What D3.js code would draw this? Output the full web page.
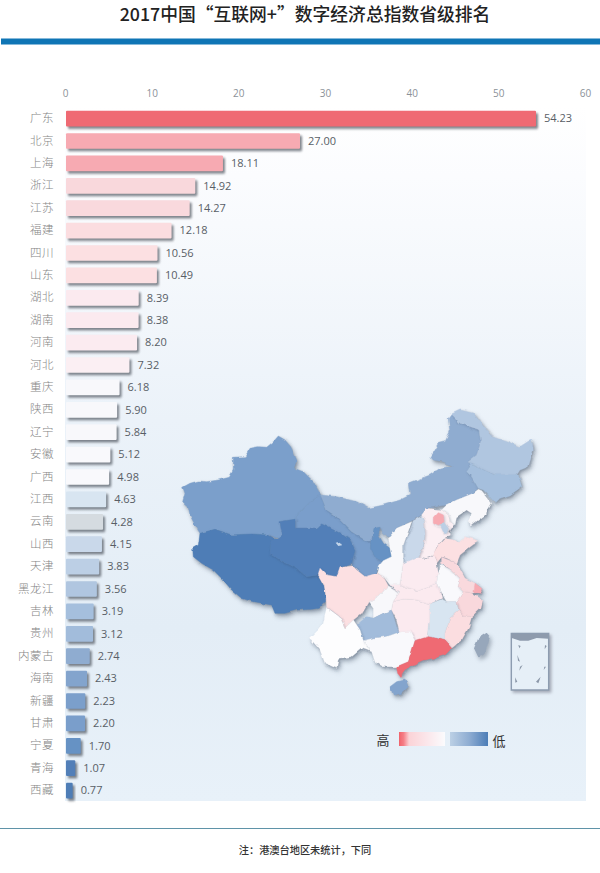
<!DOCTYPE html>
<html><head><meta charset="utf-8">
<script src="https://cdn.jsdelivr.net/npm/d3@7"></script>
<style>html,body{margin:0;padding:0;background:#fff}svg{display:block}</style>
</head><body><svg id="c" width="600" height="873"></svg>
<script>
const provinces = ["广东","北京","上海","浙江","江苏","福建","四川","山东","湖北","湖南","河南","河北","重庆","陕西","辽宁","安徽","广西","江西","云南","山西","天津","黑龙江","吉林","贵州","内蒙古","海南","新疆","甘肃","宁夏","青海","西藏"];
const indexValues = [54.23,27.00,18.11,14.92,14.27,12.18,10.56,10.49,8.39,8.38,8.20,7.32,6.18,5.90,5.84,5.12,4.98,4.63,4.28,4.15,3.83,3.56,3.19,3.12,2.74,2.43,2.23,2.20,1.70,1.07,0.77];
const axisTicks = [0,10,20,30,40,50,60];
const titleText = "2017中国“互联网+”数字经济总指数省级排名";
const noteText = "注：港澳台地区未统计，下同";

// Base-map outlines, in the map's own planar units
const mapOutlines = [
["新疆",[[38,262],[60,250],[85,243],[110,245],[145,240],[178,232],[190,210],[190,172],[225,170],[240,145],[265,140],[290,142],[310,125],[325,108],[345,120],[362,140],[380,180],[372,205],[400,215],[430,245],[452,285],[415,310],[390,335],[375,358],[327,365],[330,385],[337,405],[325,415],[295,405],[245,402],[185,405],[135,388],[90,400],[70,365],[60,345],[55,320],[38,305],[45,280]]],
["甘肃",[[452,285],[470,330],[500,350],[525,375],[545,395],[585,420],[605,420],[605,450],[620,475],[640,482],[625,500],[610,530],[585,530],[560,510],[545,490],[555,450],[540,420],[510,400],[480,385],[455,372],[440,385],[375,385],[375,358],[390,335],[415,310]]],
["西藏",[[90,400],[135,388],[185,405],[245,402],[295,405],[318,418],[303,425],[300,460],[330,480],[380,505],[410,530],[445,525],[462,560],[468,600],[445,625],[425,628],[380,630],[345,640],[315,640],[305,615],[250,605],[215,595],[185,570],[160,540],[130,510],[95,490],[70,470],[68,445],[85,435]]],
["青海",[[327,365],[375,358],[375,385],[440,385],[455,372],[480,385],[510,400],[540,420],[555,450],[545,490],[510,500],[500,530],[470,525],[445,525],[410,530],[380,505],[330,480],[300,460],[303,425],[325,415],[337,405],[330,385]]],
["内蒙古",[[452,285],[500,290],[560,305],[595,325],[640,315],[690,300],[720,285],[715,250],[780,225],[810,205],[850,198],[820,185],[790,180],[780,170],[805,130],[825,125],[840,95],[835,55],[845,42],[870,70],[930,90],[935,120],[920,165],[895,185],[900,200],[890,215],[905,230],[925,265],[910,280],[860,300],[830,315],[770,325],[755,345],[720,365],[680,385],[655,415],[640,400],[630,382],[612,385],[605,420],[585,420],[545,395],[525,375],[500,350],[470,330]]],
["宁夏",[[612,385],[630,382],[625,405],[640,430],[660,445],[665,470],[640,482],[620,475],[605,450],[605,425]]],
["黑龙江",[[845,42],[870,30],[910,40],[945,85],[965,110],[1010,125],[1050,140],[1085,118],[1090,150],[1075,200],[1050,210],[1040,225],[1010,225],[970,225],[930,205],[910,195],[895,185],[920,165],[935,120],[930,90],[870,70]]],
["吉林",[[895,185],[910,195],[930,205],[970,225],[1010,225],[1045,225],[1055,260],[1020,285],[990,295],[975,310],[960,290],[940,270],[925,265],[905,230],[890,215],[900,200]]],
["辽宁",[[925,268],[935,272],[965,310],[945,345],[905,375],[895,365],[905,340],[890,330],[860,350],[855,375],[840,365],[835,345],[815,330],[830,315],[860,300],[910,280]]],
["河北",[[770,325],[815,330],[835,345],[840,365],[850,372],[835,395],[845,405],[820,415],[800,440],[790,465],[770,475],[745,470],[760,440],[765,400],[760,365],[755,345]]],
["北京",[[790,355],[805,338],[820,345],[822,365],[805,378],[790,370]]],
["天津",[[822,368],[835,385],[830,400],[820,395],[812,378]]],
["山西",[[730,362],[755,348],[762,365],[765,400],[760,440],[745,470],[710,490],[700,490],[700,435],[715,400]]],
["陕西",[[655,415],[680,385],[725,365],[700,435],[700,490],[695,525],[690,555],[660,555],[640,530],[620,520],[625,500],[640,482],[665,470],[660,445]]],
["山东",[[785,470],[805,435],[825,415],[850,420],[865,430],[885,410],[925,422],[895,445],[870,465],[860,490],[830,475],[815,470],[800,490]]],
["河南",[[700,490],[745,470],[770,478],[790,468],[800,490],[805,520],[800,550],[775,560],[740,575],[690,555],[695,525]]],
["四川",[[450,505],[470,525],[500,530],[510,500],[545,495],[560,510],[585,530],[620,520],[640,530],[655,558],[625,590],[595,605],[575,640],[550,660],[525,685],[510,650],[470,620],[468,590],[462,555],[445,525]]],
["重庆",[[595,605],[625,590],[655,558],[690,575],[670,605],[665,630],[640,640],[610,655],[610,625]]],
["湖北",[[660,555],[690,555],[740,575],[775,560],[800,550],[810,570],[815,595],[780,612],[735,600],[700,598],[670,605],[690,575]]],
["安徽",[[815,495],[845,510],[870,535],[865,560],[880,575],[860,605],[830,605],[810,570],[800,550],[805,520]]],
["江苏",[[815,472],[860,490],[885,535],[915,550],[935,575],[905,580],[880,575],[865,560],[870,535],[845,510],[830,500],[815,490]]],
["上海",[[915,550],[935,565],[932,580],[912,578]]],
["浙江",[[880,575],[905,580],[935,600],[930,625],[905,650],[880,650],[865,632],[860,605]]],
["贵州",[[560,675],[590,650],[610,655],[640,640],[665,630],[680,680],[688,697],[650,710],[610,715],[580,722],[570,690]]],
["湖南",[[670,605],[700,598],[735,600],[780,612],[780,665],[775,710],[735,722],[720,705],[688,697],[680,660],[665,630]]],
["江西",[[780,612],[815,598],[830,605],[860,605],[865,632],[840,655],[825,700],[825,722],[800,715],[775,710],[780,665]]],
["福建",[[865,632],[880,650],[905,650],[895,685],[875,720],[845,745],[825,722],[825,700],[840,655]]],
["云南",[[470,622],[510,652],[525,685],[550,660],[560,675],[570,690],[580,722],[605,755],[575,745],[545,770],[505,775],[500,805],[465,790],[450,750],[420,715],[445,690],[460,670]]],
["广西",[[580,722],[610,715],[650,710],[688,697],[720,695],[735,722],[725,755],[715,785],[680,800],[640,800],[615,785],[605,755]]],
["广东",[[735,722],[775,710],[800,715],[825,722],[845,745],[825,765],[790,775],[760,780],[715,800],[695,825],[695,835],[683,820],[680,800],[715,785],[725,755]]],
["海南",[[660,860],[680,845],[705,840],[715,860],[695,880],[670,885]]]
];
const qinghaiLake = [[497,428],[510,425],[516,436],[505,438]];
const taiwanOutline = [[950,698],[960,710],[945,760],[925,772],[912,745],[925,715]];
const insetTop = [[1025,702],[1135,702],[1135,716],[1100,714],[1075,722],[1050,722],[1025,714]];
const insetIslands = [[[1045,735],[1052,738],[1048,745]],[[1125,735],[1130,738],[1124,748]],[[1042,765],[1050,785],[1044,782]],[[1050,800],[1058,795],[1048,812]],[[1123,800],[1128,800],[1121,810]],[[1035,832],[1042,845],[1036,848]],[[1098,845],[1112,830],[1105,850]]];

const colorKnots = [0.77,1.07,1.70,2.20,2.74,3.19,3.56,3.83,4.15,4.63,4.98,6.18,7.32,8.39,10.49,14.92,18.11,27,54.23];
const colorStops = ["#4e7db6","#527fb8","#6692c4","#7a9ecb","#8facd0","#a5bfdd","#b0c6e0","#bccfe5","#c9d8ea","#d8e5f1","#f9f9fc","#f8f8fb","#fbeff3","#fbeaef","#fce0e2","#f9d8dc","#f7aab2","#f7aab2","#ef6a73"];
const shade = d3.scaleLinear().domain(colorKnots).range(colorStops);

const svg = d3.select("#c");
const defs = svg.append("defs");
function shadow(id,dx,dy,sd,col,op){
  const f=defs.append("filter").attr("id",id).attr("x","-30%").attr("y","-30%").attr("width","170%").attr("height","170%").attr("color-interpolation-filters","sRGB");
  f.append("feDropShadow").attr("dx",dx).attr("dy",dy).attr("stdDeviation",sd).attr("flood-color",col).attr("flood-opacity",op);
}
shadow("barShadow",2,2.4,0.9,"#555c66",0.75);
shadow("provShadow",1,1.1,1,"#2f4258",0.28);
shadow("mapShadow",2,3,2,"#3c4c60",0.4);
shadow("insetShadow",2,2,1.5,"#556",0.45);
const rough = defs.append("filter").attr("id","rough").attr("x","-5%").attr("y","-5%").attr("width","110%").attr("height","110%").attr("color-interpolation-filters","sRGB");
rough.append("feTurbulence").attr("type","fractalNoise").attr("baseFrequency",0.13).attr("numOctaves",2).attr("seed",4).attr("result","n");
rough.append("feDisplacementMap").attr("in","SourceGraphic").attr("in2","n").attr("scale",3.5).attr("xChannelSelector","R").attr("yChannelSelector","G").attr("result","d");
rough.append("feGaussianBlur").attr("in","d").attr("stdDeviation",0.35);
function grad(id,x2,y2,stops){
  const g=defs.append("linearGradient").attr("id",id).attr("x1",0).attr("y1",0).attr("x2",x2).attr("y2",y2);
  stops.forEach(s=>g.append("stop").attr("offset",s[0]).attr("stop-color",s[1]));
}
grad("panel",0,1,[[0,"#ffffff"],[0.1,"#fbfcfe"],[0.45,"#ebf2f9"],[0.75,"#e3edf6"],[1,"#e8f1f9"]]);
grad("legHigh",1,0,[[0,"#f0636c"],[0.1,"#f57f87"],[0.22,"#fbd3d7"],[0.6,"#fbe6ea"],[1,"#fbfbfd"]]);
grad("legLow",1,0,[[0,"#bcd0e5"],[0.5,"#8fadd2"],[1,"#4c7db7"]]);

// Header and footer
svg.append("text").attr("x",305).attr("y",21).attr("text-anchor","middle")
  .attr("font-family","'Noto Sans CJK SC'").attr("font-weight",500).attr("font-size",17.8).attr("fill","#222").text(titleText);
svg.append("rect").attr("x",1).attr("y",38.5).attr("width",599).attr("height",6).attr("fill","#0f75b5");

const xScale = d3.scaleLinear().domain([0,60]).range([66,586]);
const yScale = d3.scaleBand().domain(provinces).range([107.4,801.8]).paddingInner(0.3).paddingOuter(0.15);

svg.append("rect").attr("x",65).attr("y",107).attr("width",521).attr("height",694).attr("fill","url(#panel)");
svg.append("line").attr("x1",0).attr("x2",600).attr("y1",828.5).attr("y2",828.5).attr("stroke","#5f93a8").attr("stroke-width",1.2);
svg.append("text").attr("x",305).attr("y",854).attr("text-anchor","middle")
  .attr("font-family","'Noto Sans CJK SC'").attr("font-weight",500).attr("font-size",10.2).attr("fill","#333").text(noteText);

// Axes
const topAxis = svg.append("g").attr("transform","translate(-1,96.5)")
  .call(d3.axisTop(xScale).tickValues(axisTicks).tickSize(0).tickPadding(0));
topAxis.select(".domain").remove();
topAxis.selectAll("text").attr("font-family","'Open Sans'").attr("font-size",10).attr("fill","#8b9198");

const leftAxis = svg.append("g").attr("transform","translate(54,0)")
  .call(d3.axisLeft(yScale).tickSize(0).tickPadding(0));
leftAxis.select(".domain").remove();
leftAxis.selectAll("text").attr("font-family","'Noto Sans CJK SC'").attr("font-weight",300).attr("font-size",11.5)
  .attr("letter-spacing",0.5).attr("fill","#858585");

// Map
const geoPath = d3.geoPath(d3.geoIdentity().scale(1/3).translate([170,400]));
const poly = r => ({type:"Polygon",coordinates:[r.concat([r[0]])]});
const valueOf = new Map(provinces.map((p,i)=>[p,indexValues[i]]));
const mapGroup = svg.append("g").attr("filter","url(#mapShadow)").append("g").attr("filter","url(#rough)");
mapGroup.selectAll("path.prov").data(mapOutlines).join("path").attr("class","prov")
  .attr("d",d=>geoPath(poly(d[1])))
  .attr("fill",d=>d[0]==="云南"?"#fdfdfe":shade(valueOf.get(d[0])))
  .attr("stroke",d=>d[0]==="云南"?"#fdfdfe":shade(valueOf.get(d[0]))).attr("stroke-width",0.4)
  .attr("stroke-linejoin","round").attr("filter","url(#provShadow)");
mapGroup.append("path").attr("d",geoPath(poly(qinghaiLake))).attr("fill","#c4d6ea");
mapGroup.append("path").attr("d",geoPath(poly(taiwanOutline))).attr("fill","#97a7bb");

// Inset
const inset = svg.append("g");
inset.append("path").attr("d",geoPath(poly([[1024,700],[1136,700],[1136,870],[1024,870]])))
  .attr("fill","#e6eff7").attr("stroke","#8d9cb0").attr("stroke-width",1.4).attr("filter","url(#insetShadow)");
inset.append("path").attr("d",geoPath(poly(insetTop))).attr("fill","#8e9bad");
inset.selectAll("path.isl").data(insetIslands).join("path").attr("class","isl")
  .attr("d",d=>geoPath(poly(d))).attr("fill","#8b97a8");

// Bars
svg.append("g").selectAll("rect").data(provinces).join("rect")
  .attr("x",xScale(0)).attr("y",d=>yScale(d)).attr("height",yScale.bandwidth())
  .attr("width",(d,i)=>xScale(indexValues[i])-xScale(0))
  .attr("rx",1)
  .attr("fill",(d,i)=>d==="云南"?"#d5dbe0":shade(indexValues[i]))
  .attr("filter","url(#barShadow)");
svg.append("g").selectAll("text").data(provinces).join("text")
  .attr("x",(d,i)=>xScale(indexValues[i])+8).attr("y",d=>yScale(d)+yScale.bandwidth()/2+3.8)
  .attr("font-family","'Open Sans'").attr("font-size",11).attr("fill","#585e66")
  .text((d,i)=>indexValues[i].toFixed(2));

// Legend
const lg = svg.append("g");
lg.append("rect").attr("x",399).attr("y",732).attr("width",46).attr("height",14).attr("fill","url(#legHigh)");
lg.append("rect").attr("x",450).attr("y",732).attr("width",38).attr("height",14).attr("fill","url(#legLow)");
lg.append("text").attr("x",383).attr("y",745).attr("text-anchor","middle").attr("font-family","'Noto Sans CJK SC'").attr("font-size",13).attr("fill","#333").text("高");
lg.append("text").attr("x",499).attr("y",746).attr("text-anchor","middle").attr("font-family","'Noto Sans CJK SC'").attr("font-size",13).attr("fill","#333").text("低");
</script></body></html>
